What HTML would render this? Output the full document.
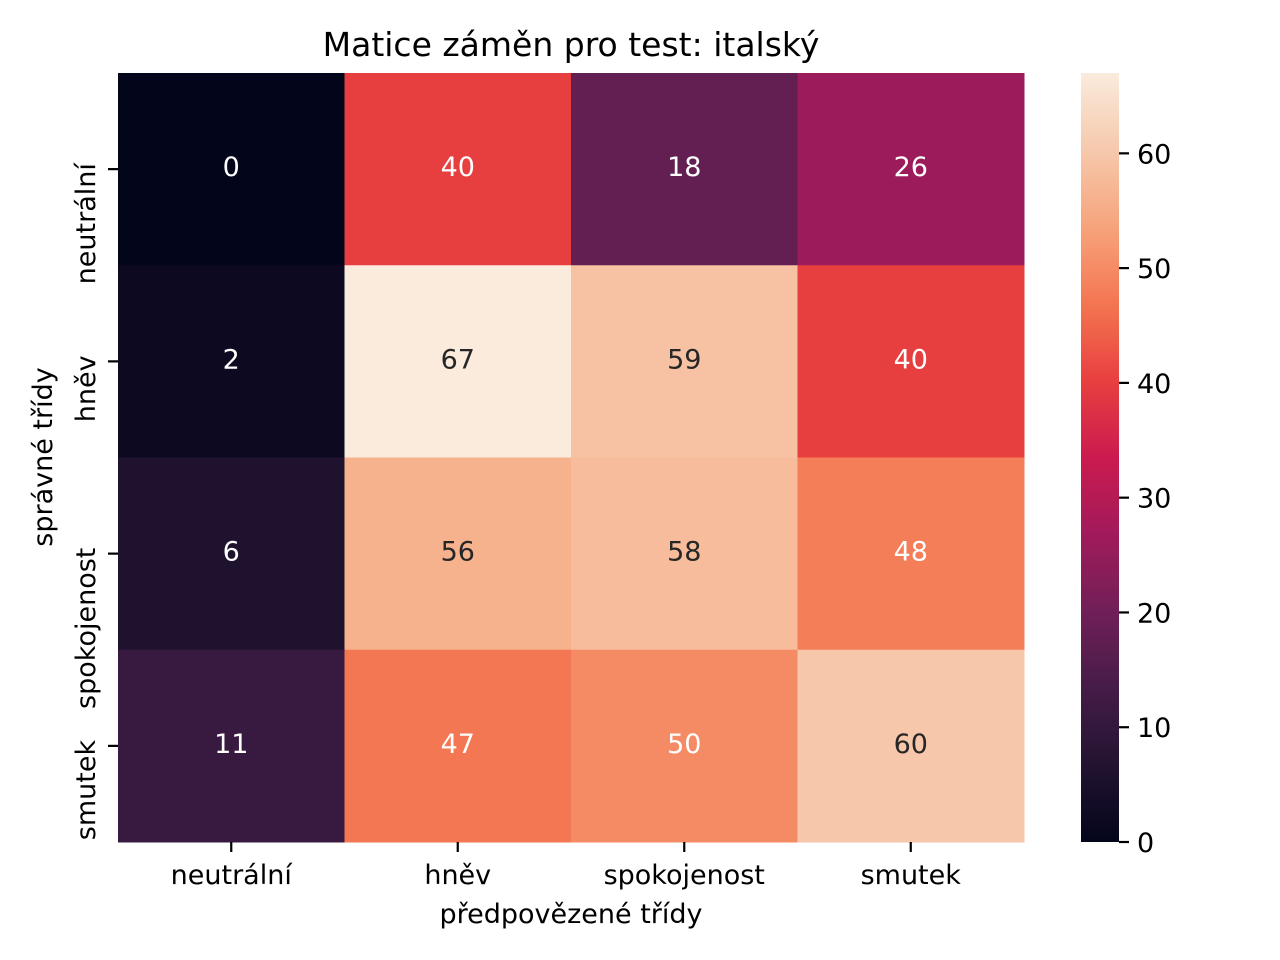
<!DOCTYPE html>
<html><head><meta charset="utf-8"><style>
body{margin:0;background:#fff}
svg{display:block;font-family:"DejaVu Sans","Liberation Sans",sans-serif}
</style></head><body>
<svg id="chart" width="1280" height="960">
<text x="571" y="56" font-size="33" text-anchor="middle" fill="#000">Matice záměn pro test: italský</text>
<g id="cells"></g>
<g id="axes"></g>
<defs><linearGradient id="cbgrad" x1="0" y1="1" x2="0" y2="0"></linearGradient></defs>
<rect x="1081" y="73" width="38" height="769" fill="url(#cbgrad)"/>
<g id="cbticks"></g>
<text x="571" y="923" font-size="27" text-anchor="middle">předpovězené třídy</text>
<text transform="translate(52,457) rotate(-90)" font-size="27" text-anchor="middle">správné třídy</text>
</svg>
<script>
const categories = ["neutrální","hněv","spokojenost","smutek"];
const values = [
  [0,40,18,26],
  [2,67,59,40],
  [6,56,58,48],
  [11,47,50,60]
];
const cbTicks = [0,10,20,30,40,50,60];
const vmin = 0, vmax = 67;

const stops=[[0,"#03051a"],[0.1,"#221331"],[0.2,"#451c47"],[0.3,"#701f57"],[0.4,"#a11a5b"],[0.5,"#cb1b4f"],[0.6,"#e83f3f"],[0.7,"#f37651"],[0.8,"#f6a47c"],[0.9,"#f6c9ac"],[1,"#faebdd"]];
function hex(h){return [1,3,5].map(i=>parseInt(h.substr(i,2),16));}
function cmap(v){let t=(v-vmin)/(vmax-vmin);t=Math.max(0,Math.min(1,t));
 for(let i=1;i<stops.length;i++){if(t<=stops[i][0]){const a=stops[i-1],b=stops[i];const f=(t-a[0])/(b[0]-a[0]);const ca=hex(a[1]),cb=hex(b[1]);return "rgb("+ca.map((c,k)=>Math.round(c+(cb[k]-c)*f)).join(",")+")";}}return stops[stops.length-1][1];}
function lum(v){const c=cmap(v).match(/\d+/g).map(Number).map(x=>{x/=255;return x<=0.03928?x/12.92:Math.pow((x+0.055)/1.055,2.4)});return 0.2126*c[0]+0.7152*c[1]+0.0722*c[2];}
const X0=118,X1=1024,Y0=73,Y1=842;
const cw=(X1-X0)/categories.length, ch=(Y1-Y0)/categories.length;
const xs=i=>X0+i*cw, ys=j=>Y0+j*ch;
const cbY=v=>Y1-(v-vmin)/(vmax-vmin)*(Y1-Y0);
const NS="http://www.w3.org/2000/svg";
function mk(t,a,p){const e=document.createElementNS(NS,t);for(const k in a)e.setAttribute(k,a[k]);p.appendChild(e);return e;}
const cells=document.getElementById("cells");
values.forEach((row,j)=>row.forEach((v,i)=>{
 const r=mk("rect",{x:xs(i),y:ys(j),width:cw+0.5,height:ch+0.5,fill:cmap(v)},cells);
 
 
 const t=mk("text",{x:xs(i)+cw/2,y:ys(j)+ch/2+7,"font-size":27,"text-anchor":"middle",fill:lum(v)>0.408?"#262626":"#ffffff"},cells);
 t.textContent=v;
 
 
}));
const axes=document.getElementById("axes");
categories.forEach((c,i)=>{
 const cx=xs(i)+cw/2;
 mk("line",{x1:cx,x2:cx,y1:Y1,y2:Y1+10,stroke:"#000","stroke-width":2.2},axes);
 const t=mk("text",{x:cx,y:884,"font-size":27,"text-anchor":"middle"},axes);t.textContent=c;
 
 
 const cy=ys(i)+ch/2;
 mk("line",{x1:X0-10,x2:X0,y1:cy,y2:cy,stroke:"#000","stroke-width":2.2},axes);
 const u=mk("text",{transform:`translate(95,${cy-6}) rotate(-90)`,"font-size":27,"text-anchor":"end"},axes);u.textContent=c;
 
 
});
const g=document.getElementById("cbgrad");
for(let k=0;k<=20;k++){mk("stop",{offset:k/20,"stop-color":cmap(vmin+k/20*(vmax-vmin))},g);}
const cbt=document.getElementById("cbticks");
cbTicks.forEach(v=>{const y=cbY(v);
 mk("line",{x1:1119,x2:1129,y1:y,y2:y,stroke:"#000","stroke-width":2.2},cbt);
 const t=mk("text",{x:1137,y:y+10,"font-size":27},cbt);t.textContent=v;
 
 
});
</script>
</body></html>
